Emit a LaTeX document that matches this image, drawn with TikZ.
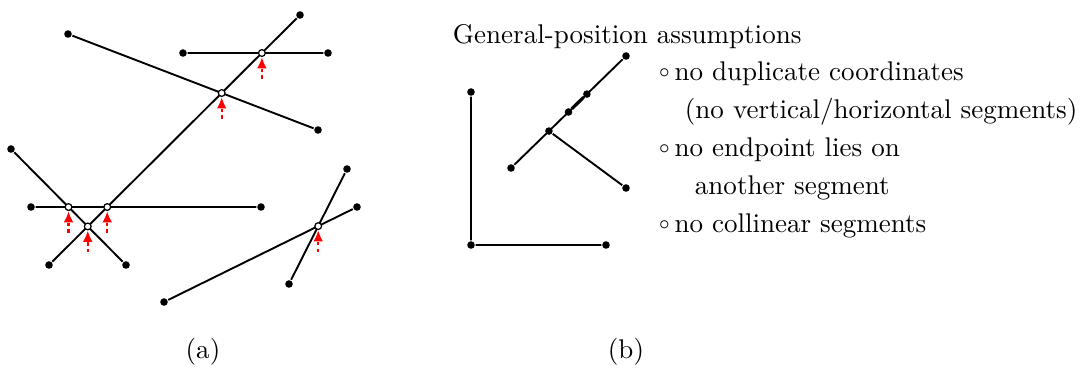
\documentclass[tikz,border=0pt]{standalone}
\usepackage{amsmath}
\usepackage{amssymb}
\usepackage{tikz}
\usetikzlibrary{calc,arrows.meta}

\newcommand{\itemdot}{\raisebox{0.9pt}{$\scriptstyle\circ$}\,}

\tikzset{
        endpt/.style={circle,fill,inner sep=0pt,minimum size=2.8pt},
        crosspt/.style={circle,draw,fill=white,inner sep=0pt,minimum size=2.5pt,line width=0.45pt},
        upflag/.style={red,line width=0.85pt,dash pattern=on 1.2pt off 1.2pt,-{Latex[length=4.2pt,width=3.6pt]}},
        txt/.style={anchor=base west,inner sep=0pt}
}

\begin{document}
\begin{tikzpicture}[x=0.37pt,y=-0.37pt,line width=0.7pt]
        \useasboundingbox (0,0) rectangle (1080,369);
        \foreach \n/\x/\y in {a1/68/34,a2/318/130,b1/183/53,b2/328/53,c1/300/15,c2/49/265,d1/11/149,d2/126/265,e1/31/207,e2/261/207,f1/164/302,f2/357/207,g1/289/284,g2/347/169}
            \node[endpt] (\n) at (\x,\y) {};
        \draw (a1) -- (a2) (b1) -- (b2) (c1) -- (c2) (d1) -- (d2) (e1) -- (e2) (f1) -- (f2) (g1) -- (g2);
        \node[crosspt] (x1) at (intersection of b1--b2 and c1--c2) {};
        \node[crosspt] (x2) at (intersection of a1--a2 and c1--c2) {};
        \node[crosspt] (x3) at (intersection of d1--d2 and e1--e2) {};
        \node[crosspt] (x4) at (intersection of c1--c2 and e1--e2) {};
        \node[crosspt] (x5) at (intersection of c1--c2 and d1--d2) {};
        \node[crosspt] (x6) at (intersection of f1--f2 and g1--g2) {};
        \foreach \i in {x1,x2,x3,x4,x5,x6} {
            \coordinate (\i s) at ([yshift=-9.5pt]\i.center);
            \draw[upflag] (\i s) -- (\i);
        }
        \node at (203,352) (la) {(a)};

        \foreach \n/\x/\y in {h1/471/92,h2/471/245,h3/606/245,k1/511/168,k2/626/56,n2/626/188}
            \node[endpt] (\n) at (\x,\y) {};
        \node[endpt] (n1) at ($(k1)!0.33!(k2)$) {};
        \node[endpt] (m1) at ($(k1)!0.5!(k2)$) {};
        \node[endpt] (m2) at ($(k1)!0.66!(k2)$) {};
        \draw (h1) -- (h2) -- (h3) (k1) -- (k2) (n1) -- (n2);
        \draw[line width=1.2pt] (m1) -- (m2);
        \node[txt] (title) at (452,43) {General-position assumptions};
        \node[txt] (r1) at (658,80) {\itemdot no duplicate coordinates};
        \node[txt] (r2) at (684,118) {(no vertical/horizontal segments)};
        \node[txt] (r3) at (658,156) {\itemdot no endpoint lies on};
        \node[txt] (r4) at (694,194) {another segment};
        \node[txt] (r5) at (658,232) {\itemdot no collinear segments};
        \node at (626,352) (lb) {(b)};
\end{tikzpicture}
\end{document}
